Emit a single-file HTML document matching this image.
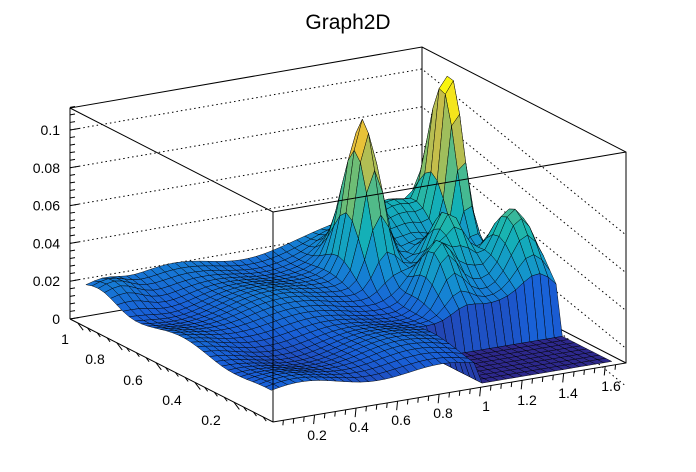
<!DOCTYPE html>
<html><head><meta charset="utf-8"><style>
html,body{margin:0;padding:0;background:#fff;width:696px;height:472px;overflow:hidden}
svg text{font-family:"Liberation Sans",sans-serif;fill:#000}
</style></head><body>
<svg id="s" width="696" height="472" viewBox="0 0 696 472" xmlns="http://www.w3.org/2000/svg">
<text x="348" y="29" font-size="21" text-anchor="middle">Graph2D</text>
<g id="back" stroke="#000" fill="none" stroke-width="1"></g>
<g id="surf" stroke="#000" stroke-width="0.45" stroke-linejoin="round"></g>
<g id="front" stroke="#000" fill="none" stroke-width="1"></g>
<g id="labels" font-size="14"></g>
</svg>
<script>
var NS="http://www.w3.org/2000/svg";
function el(p,t,a,txt){var e=document.createElementNS(NS,t);for(var k in a)e.setAttribute(k,a[k]);if(txt!=null)e.textContent=txt;document.getElementById(p).appendChild(e);return e;}
function P(x,y,z){return [273+207.6*x-195.2*y, 422-34.7*x-99*y-1890*z];}
el("back","polyline",{points:"70,319 422,258 626,363"});
el("back","line",{x1:422,y1:47,x2:422,y2:258});
for(var i=1;i<=5;i++){var Y=319-37.8*i;
 el("back","polyline",{points:"70,"+Y+" 422,"+(Y-61)+" 626,"+(Y+105)+"","stroke-dasharray":"1.5,3"});}
function g(x,y,x0,y0,sx,sy){return Math.exp(-((x-x0)*(x-x0))/(2*sx*sx)-((y-y0)*(y-y0))/(2*sy*sy));}
function Z(x,y){
 if(x>1.0&&y<0.3)return 0.0;
 if(x>1.66)return 0;
 var z=0.012+0.006*y+0.0025*Math.sin(x*9+y*4)+0.002*Math.cos(y*13-x*3)+0.008*x*y;
 z+=0.075*g(x,y,1.11,0.72,0.055,0.07);
 z+=0.088*g(x,y,1.567,0.77,0.04,0.07);
 z+=0.04*g(x,y,1.58,0.45,0.08,0.09);
 z+=0.03*g(x,y,1.22,0.45,0.06,0.07);
 z+=0.035*g(x,y,1.36,0.55,0.06,0.07);
 z+=0.02*g(x,y,1.4,0.85,0.15,0.1);
 z+=0.008*g(x,y,0.1,0.9,0.08,0.08);
 return Math.max(0,z);}
var pal=[[0,[45,40,140]],[0.015,[25,95,215]],[0.03,[20,140,210]],[0.05,[20,180,180]],[0.07,[120,190,110]],[0.09,[230,190,60]],[0.105,[250,245,15]]];
function col(z){if(z<=0)return "rgb(45,40,140)";for(var i=1;i<pal.length;i++){if(z<=pal[i][0]){var a=pal[i-1],b=pal[i],t=(z-a[0])/(b[0]-a[0]);var c=a[1].map(function(v,j){return Math.round(v+(b[1][j]-v)*t)});return "rgb("+c+")";}}return "rgb(250,245,15)";}
var nx=42,ny=30,x0=0.02,x1=1.66,y0=0.03,y1=0.98,cells=[];
for(var i=0;i<nx;i++)for(var j=0;j<ny;j++){
 var xa=x0+(x1-x0)*i/nx,xb=x0+(x1-x0)*(i+1)/nx,ya=y0+(y1-y0)*j/ny,yb=y0+(y1-y0)*(j+1)/ny;
 var za=Z(xa,ya),zb=Z(xb,ya),zc=Z(xb,yb),zd=Z(xa,yb);
 cells.push({d:(xa+xb)/2/1.7+(ya+yb)/2/1.04,p:[P(xa,ya,za),P(xb,ya,zb),P(xb,yb,zc),P(xa,yb,zd)],z:(za+zb+zc+zd)/4});}
cells.sort(function(a,b){return b.d-a.d});
cells.forEach(function(c){el("surf","polygon",{points:c.p.map(function(q){return q[0].toFixed(1)+","+q[1].toFixed(1)}).join(" "),fill:col(c.z)});});
el("front","polyline",{points:"70,319 70,108 422,47 626,152 626,363 273,422 70,319"});
el("front","polyline",{points:"70,108 273,212 626,152"});
el("front","line",{x1:273,y1:212,x2:273,y2:422});
for(var k=0;k<=28;k++){var Y=319-37.8*k/5;var L=(k%5==0)?9:5;el("front","line",{x1:70,y1:Y,x2:70+L,y2:Y-L*0.17});}
var zl=["0","0.02","0.04","0.06","0.08","0.1"];
for(var i=0;i<6;i++)el("labels","text",{x:60,y:319-37.8*i+5,"text-anchor":"end"},zl[i]);
for(var k=1;k<=33;k++){var x=k*0.05;if(x>1.7)break;var p=P(x,0,0);var L=(k%4==0)?9:5;el("front","line",{x1:p[0],y1:p[1],x2:p[0]-L*0.1,y2:p[1]+L});}
var xl=[[317,440,"0.2"],[359,432,"0.4"],[401,425,"0.6"],[443,418,"0.8"],[486,411,"1"],[527,405,"1.2"],[568,398,"1.4"],[611,391,"1.6"]];
xl.forEach(function(a){el("labels","text",{x:a[0],y:a[1],"text-anchor":"middle"},a[2]);});
for(var k=1;k<=20;k++){var y=k*0.05;var p=P(0,y,0);var L=(k%4==0)?9:5;el("front","line",{x1:p[0],y1:p[1],x2:p[0]+L*0.6,y2:p[1]+L*0.8});}
var yl=[[65,344,"1"],[95,364,"0.8"],[133,385,"0.6"],[172,405,"0.4"],[211,425,"0.2"]];
yl.forEach(function(a){el("labels","text",{x:a[0],y:a[1],"text-anchor":"middle"},a[2]);});
</script>
</body></html>
